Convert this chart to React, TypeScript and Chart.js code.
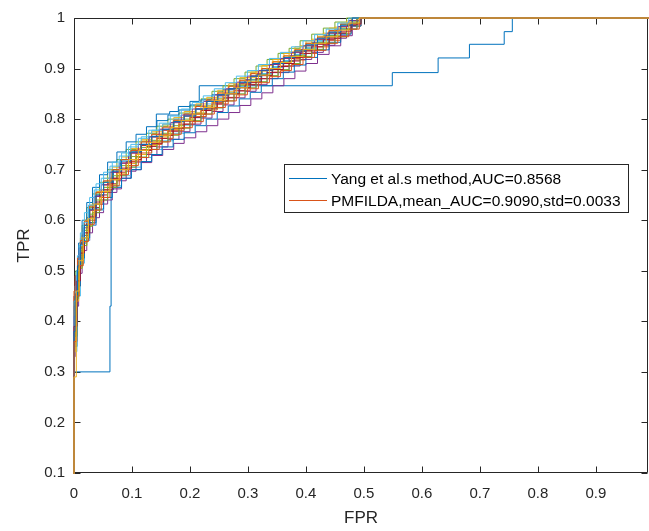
import React, { useEffect, useRef } from 'react';
import { Chart, registerables } from 'chart.js';

Chart.register(...registerables);

// ---- tick labels ----
const xTickValues = [0, 0.1, 0.2, 0.3, 0.4, 0.5, 0.6, 0.7, 0.8, 0.9];
const xTickLabels = ['0', '0.1', '0.2', '0.3', '0.4', '0.5', '0.6', '0.7', '0.8', '0.9'];
const yTickValues = [0.1, 0.2, 0.3, 0.4, 0.5, 0.6, 0.7, 0.8, 0.9, 1];
const yTickLabels = ['0.1', '0.2', '0.3', '0.4', '0.5', '0.6', '0.7', '0.8', '0.9', '1'];

const xAxisTitle = 'FPR';
const yAxisTitle = 'TPR';
const seriesLabels = ['Yang et al.s method,AUC=0.8568', 'PMFILDA,mean_AUC=0.9090,std=0.0033'];

// ---- Yang et al. ROC (staircase vertices) ----
const yangFpr = [0, 0, 0.062, 0.064, 0.068, 0.08, 0.095, 0.115, 0.13, 0.142, 0.165, 0.18, 0.2, 0.216, 0.549, 0.628, 0.682, 0.742, 0.756, 1];
const yangTpr = [0, 0.3, 0.43, 0.66, 0.7, 0.72, 0.735, 0.75, 0.765, 0.81, 0.815, 0.825, 0.835, 0.866, 0.892, 0.921, 0.948, 0.973, 1, 1];

// ---- PMFILDA ROC runs (FPR grids) ----
const fprA = [0, 0, 0.003, 0.008, 0.014, 0.022, 0.032, 0.044, 0.058, 0.074, 0.09, 0.107, 0.125, 0.143, 0.162, 0.181, 0.2, 0.219, 0.238, 0.257, 0.276, 0.295, 0.314, 0.333, 0.352, 0.371, 0.39, 0.41, 0.43, 0.45, 0.47, 0.488, 1];
const fprB = [0, 0, 0.005, 0.011, 0.018, 0.027, 0.038, 0.051, 0.066, 0.082, 0.099, 0.116, 0.134, 0.152, 0.171, 0.19, 0.209, 0.228, 0.247, 0.266, 0.285, 0.304, 0.323, 0.342, 0.361, 0.38, 0.4, 0.42, 0.44, 0.46, 0.478, 0.495, 1];
const fprC = [0, 0, 0.002, 0.006, 0.011, 0.018, 0.027, 0.038, 0.051, 0.066, 0.082, 0.098, 0.116, 0.134, 0.153, 0.172, 0.19, 0.21, 0.229, 0.248, 0.267, 0.286, 0.305, 0.324, 0.343, 0.362, 0.381, 0.4, 0.42, 0.44, 0.46, 0.48, 1];
const fprD = [0, 0, 0.004, 0.009, 0.016, 0.025, 0.035, 0.047, 0.062, 0.078, 0.094, 0.111, 0.129, 0.147, 0.166, 0.185, 0.204, 0.223, 0.242, 0.261, 0.28, 0.299, 0.318, 0.337, 0.356, 0.375, 0.395, 0.415, 0.435, 0.455, 0.474, 0.492, 1];

// ---- PMFILDA ROC runs (TPR values) ----
const run01 = [0, 0.40, 0.47, 0.525, 0.57, 0.605, 0.632, 0.66, 0.683, 0.70, 0.716, 0.74, 0.755, 0.77, 0.78, 0.797, 0.81, 0.82, 0.833, 0.85, 0.863, 0.872, 0.887, 0.898, 0.905, 0.92, 0.935, 0.95, 0.962, 0.97, 0.988, 1, 1];
const run02 = [0, 0.42, 0.50, 0.555, 0.6, 0.628, 0.655, 0.676, 0.70, 0.72, 0.74, 0.757, 0.77, 0.786, 0.797, 0.81, 0.826, 0.838, 0.85, 0.866, 0.876, 0.89, 0.9, 0.914, 0.925, 0.937, 0.95, 0.963, 0.975, 0.987, 1, 1, 1];
const run03 = [0, 0.33, 0.40, 0.47, 0.52, 0.56, 0.59, 0.615, 0.64, 0.662, 0.683, 0.70, 0.714, 0.728, 0.74, 0.752, 0.763, 0.775, 0.787, 0.80, 0.813, 0.827, 0.84, 0.852, 0.866, 0.88, 0.895, 0.91, 0.928, 0.945, 0.965, 1, 1];
const run04 = [0, 0.44, 0.50, 0.545, 0.59, 0.625, 0.652, 0.675, 0.70, 0.72, 0.74, 0.755, 0.772, 0.786, 0.80, 0.812, 0.826, 0.84, 0.855, 0.866, 0.88, 0.893, 0.905, 0.918, 0.93, 0.94, 0.955, 0.968, 0.98, 0.992, 1, 1, 1];
const run05 = [0, 0.34, 0.45, 0.515, 0.56, 0.59, 0.62, 0.645, 0.668, 0.688, 0.705, 0.724, 0.74, 0.757, 0.772, 0.788, 0.803, 0.82, 0.835, 0.85, 0.864, 0.878, 0.89, 0.904, 0.916, 0.928, 0.942, 0.955, 0.968, 0.98, 0.993, 1, 1];
const run06 = [0, 0.45, 0.48, 0.51, 0.555, 0.59, 0.62, 0.648, 0.67, 0.695, 0.713, 0.733, 0.748, 0.765, 0.778, 0.795, 0.806, 0.82, 0.835, 0.846, 0.86, 0.87, 0.885, 0.896, 0.91, 0.92, 0.934, 0.946, 0.958, 0.972, 0.985, 1, 1];
const run07 = [0, 0.38, 0.49, 0.555, 0.60, 0.635, 0.665, 0.69, 0.715, 0.735, 0.755, 0.77, 0.785, 0.797, 0.808, 0.818, 0.828, 0.838, 0.848, 0.858, 0.868, 0.878, 0.888, 0.9, 0.912, 0.925, 0.938, 0.952, 0.965, 0.978, 0.99, 1, 1];
const run08 = [0, 0.36, 0.47, 0.53, 0.57, 0.60, 0.632, 0.655, 0.68, 0.70, 0.717, 0.733, 0.75, 0.762, 0.778, 0.79, 0.805, 0.818, 0.83, 0.843, 0.856, 0.868, 0.88, 0.893, 0.905, 0.917, 0.93, 0.943, 0.956, 0.97, 0.984, 1, 1];
const run09 = [0, 0.40, 0.46, 0.52, 0.565, 0.60, 0.63, 0.657, 0.683, 0.705, 0.725, 0.742, 0.76, 0.775, 0.79, 0.803, 0.815, 0.83, 0.843, 0.857, 0.87, 0.882, 0.893, 0.906, 0.918, 0.93, 0.943, 0.955, 0.967, 0.98, 0.99, 1, 1];
const run10 = [0, 0.35, 0.43, 0.495, 0.54, 0.575, 0.605, 0.632, 0.655, 0.678, 0.697, 0.715, 0.73, 0.745, 0.76, 0.775, 0.79, 0.802, 0.815, 0.828, 0.842, 0.855, 0.868, 0.88, 0.892, 0.905, 0.918, 0.932, 0.946, 0.96, 0.978, 1, 1];
const run11 = [0, 0.37, 0.48, 0.54, 0.58, 0.612, 0.64, 0.665, 0.688, 0.708, 0.726, 0.744, 0.758, 0.772, 0.787, 0.8, 0.812, 0.826, 0.84, 0.852, 0.866, 0.878, 0.889, 0.902, 0.914, 0.926, 0.94, 0.952, 0.965, 0.978, 0.99, 1, 1];
const run12 = [0, 0.42, 0.47, 0.53, 0.575, 0.615, 0.645, 0.672, 0.695, 0.715, 0.733, 0.75, 0.765, 0.778, 0.79, 0.8, 0.81, 0.82, 0.83, 0.842, 0.853, 0.865, 0.877, 0.89, 0.902, 0.915, 0.928, 0.94, 0.955, 0.97, 0.985, 1, 1];
const run13 = [0, 0.43, 0.455, 0.51, 0.555, 0.595, 0.625, 0.65, 0.672, 0.695, 0.713, 0.73, 0.746, 0.762, 0.776, 0.79, 0.803, 0.817, 0.83, 0.842, 0.856, 0.868, 0.88, 0.892, 0.904, 0.915, 0.93, 0.943, 0.957, 0.97, 0.985, 1, 1];
const run14 = [0, 0.35, 0.47, 0.525, 0.565, 0.595, 0.622, 0.645, 0.665, 0.683, 0.70, 0.716, 0.73, 0.745, 0.76, 0.773, 0.787, 0.8, 0.813, 0.826, 0.84, 0.853, 0.866, 0.88, 0.893, 0.907, 0.922, 0.937, 0.952, 0.968, 0.984, 1, 1];
const run15 = [0, 0.46, 0.49, 0.525, 0.56, 0.598, 0.628, 0.655, 0.678, 0.7, 0.72, 0.738, 0.755, 0.77, 0.784, 0.798, 0.81, 0.825, 0.838, 0.852, 0.865, 0.877, 0.89, 0.9, 0.913, 0.925, 0.937, 0.95, 0.962, 0.975, 0.988, 1, 1];
const run16 = [0, 0.34, 0.44, 0.505, 0.55, 0.59, 0.62, 0.645, 0.67, 0.693, 0.712, 0.73, 0.748, 0.765, 0.78, 0.797, 0.812, 0.826, 0.84, 0.854, 0.868, 0.882, 0.895, 0.908, 0.92, 0.933, 0.945, 0.958, 0.97, 0.982, 0.994, 1, 1];
const run17 = [0, 0.41, 0.49, 0.545, 0.585, 0.62, 0.647, 0.67, 0.695, 0.713, 0.733, 0.75, 0.765, 0.78, 0.793, 0.808, 0.82, 0.835, 0.848, 0.86, 0.873, 0.885, 0.896, 0.908, 0.92, 0.932, 0.945, 0.958, 0.97, 0.983, 0.995, 1, 1];
const run18 = [0, 0.37, 0.445, 0.505, 0.55, 0.588, 0.615, 0.64, 0.665, 0.688, 0.705, 0.725, 0.74, 0.755, 0.768, 0.782, 0.797, 0.81, 0.822, 0.836, 0.85, 0.862, 0.874, 0.886, 0.898, 0.91, 0.924, 0.938, 0.95, 0.963, 0.978, 1, 1];
const run19 = [0, 0.44, 0.5, 0.55, 0.595, 0.63, 0.66, 0.683, 0.707, 0.727, 0.745, 0.762, 0.778, 0.792, 0.806, 0.82, 0.833, 0.846, 0.86, 0.872, 0.885, 0.896, 0.908, 0.92, 0.932, 0.943, 0.955, 0.967, 0.978, 0.99, 1, 1, 1];
const run20 = [0, 0.39, 0.48, 0.535, 0.575, 0.608, 0.636, 0.66, 0.683, 0.703, 0.72, 0.738, 0.752, 0.768, 0.782, 0.796, 0.81, 0.822, 0.836, 0.85, 0.862, 0.873, 0.886, 0.898, 0.91, 0.922, 0.935, 0.948, 0.96, 0.974, 0.988, 1, 1];
const run21 = [0, 0.38, 0.45, 0.51, 0.553, 0.59, 0.622, 0.65, 0.675, 0.697, 0.717, 0.735, 0.75, 0.766, 0.78, 0.795, 0.806, 0.82, 0.835, 0.848, 0.86, 0.873, 0.885, 0.897, 0.91, 0.922, 0.935, 0.947, 0.96, 0.972, 0.986, 1, 1];
const run22 = [0, 0.36, 0.45, 0.51, 0.558, 0.592, 0.62, 0.645, 0.668, 0.69, 0.708, 0.724, 0.74, 0.755, 0.77, 0.783, 0.795, 0.81, 0.823, 0.836, 0.848, 0.86, 0.872, 0.884, 0.896, 0.908, 0.922, 0.936, 0.95, 0.963, 0.978, 1, 1];
const run23 = [0, 0.29, 0.46, 0.52, 0.565, 0.603, 0.632, 0.657, 0.68, 0.7, 0.72, 0.738, 0.754, 0.768, 0.783, 0.797, 0.81, 0.823, 0.837, 0.85, 0.862, 0.875, 0.887, 0.9, 0.912, 0.924, 0.938, 0.95, 0.963, 0.976, 0.99, 1, 1];

const pmfildaRuns = [
  { fpr: fprA, tpr: run01 }, { fpr: fprB, tpr: run02 }, { fpr: fprC, tpr: run03 }, { fpr: fprA, tpr: run04 },
  { fpr: fprB, tpr: run05 }, { fpr: fprC, tpr: run06 }, { fpr: fprA, tpr: run07 }, { fpr: fprB, tpr: run08 },
  { fpr: fprC, tpr: run09 }, { fpr: fprA, tpr: run10 }, { fpr: fprB, tpr: run11 }, { fpr: fprC, tpr: run12 },
  { fpr: fprA, tpr: run13 }, { fpr: fprB, tpr: run14 }, { fpr: fprC, tpr: run15 }, { fpr: fprA, tpr: run16 },
  { fpr: fprD, tpr: run17 }, { fpr: fprA, tpr: run18 }, { fpr: fprD, tpr: run19 }, { fpr: fprB, tpr: run20 },
  { fpr: fprC, tpr: run21 }, { fpr: fprD, tpr: run22 }, { fpr: fprD, tpr: run23 },
];

const colorOrder = ['#0072BD', '#D95319', '#EDB120', '#7E2F8E', '#77AC30', '#4DBEEE', '#A2142F'];
const AXIS_COLOR = '#262626';
const FONT = '"Liberation Sans", Arial, Helvetica, sans-serif';

const toPoints = (fpr: number[], tpr: number[]) => {
  const n = Math.min(fpr.length, tpr.length);
  const pts: { x: number; y: number }[] = [];
  for (let i = 0; i < n; i++) pts.push({ x: fpr[i], y: tpr[i] });
  return pts;
};

const framePlugin = {
  id: 'matlabFrame',
  beforeDatasetsDraw(chart: any) {
    const { ctx, chartArea: a, scales } = chart;
    const L = Math.round(a.left) + 0.5;
    const R = Math.round(a.right) - 0.5;
    const T = Math.round(a.top) + 0.5;
    const B = Math.round(a.bottom) - 0.5;
    const tl = 6;
    ctx.save();
    ctx.strokeStyle = AXIS_COLOR;
    ctx.lineWidth = 1;
    ctx.beginPath();
    ctx.rect(L, T, R - L, B - T);
    ctx.stroke();
    ctx.beginPath();
    for (const v of xTickValues) {
      const px = Math.round(scales.x.getPixelForValue(v)) + 0.5;
      ctx.moveTo(px, B); ctx.lineTo(px, B - tl);
      ctx.moveTo(px, T); ctx.lineTo(px, T + tl);
    }
    for (const v of yTickValues) {
      const py = Math.round(scales.y.getPixelForValue(v)) + 0.5;
      ctx.moveTo(L, py); ctx.lineTo(L + tl, py);
      ctx.moveTo(R, py); ctx.lineTo(R - tl, py);
    }
    ctx.stroke();
    ctx.restore();
  },
};

const legendPlugin = {
  id: 'insideLegend',
  afterDatasetsDraw(chart: any) {
    const { ctx } = chart;
    const ds = chart.data.datasets;
    const bx = 284.5, by = 164.5, bw = 344, bh = 48;
    ctx.save();
    ctx.fillStyle = '#ffffff';
    ctx.fillRect(bx, by, bw, bh);
    ctx.strokeStyle = AXIS_COLOR;
    ctx.lineWidth = 1;
    ctx.strokeRect(bx, by, bw, bh);
    const rows = [178.5, 200.5];
    ctx.font = `15.5px ${FONT}`;
    ctx.textBaseline = 'alphabetic';
    ctx.textAlign = 'left';
    for (let i = 0; i < 2; i++) {
      const d = ds[i];
      ctx.strokeStyle = d.borderColor;
      ctx.beginPath();
      ctx.moveTo(289, rows[i]);
      ctx.lineTo(327, rows[i]);
      ctx.stroke();
      ctx.fillStyle = '#000000';
      ctx.fillText(d.label, 331, rows[i] + 5);
    }
    ctx.restore();
  },
};

export default function App() {
  const canvasRef = useRef<HTMLCanvasElement | null>(null);

  useEffect(() => {
    document.body.style.margin = '0';
    const canvas = canvasRef.current;
    if (!canvas) return;

    const total = pmfildaRuns.length + 1;
    const datasets: any[] = [];
    datasets.push({
      label: seriesLabels[0],
      data: toPoints(yangFpr, yangTpr),
      borderColor: colorOrder[0],
      borderWidth: 1,
      pointRadius: 0,
      stepped: 'before',
      fill: false,
      clip: 1,
      order: total,
    });
    pmfildaRuns.forEach((run, i) => {
      datasets.push({
        label: i === 0 ? seriesLabels[1] : '',
        data: toPoints(run.fpr, run.tpr),
        borderColor: colorOrder[(i + 1) % colorOrder.length],
        borderWidth: 1,
        pointRadius: 0,
        stepped: 'before',
        fill: false,
        clip: 1,
        order: total - (i + 1),
      });
    });

    const chart = new Chart(canvas, {
      type: 'line',
      data: { datasets },
      options: {
        animation: false,
        responsive: false,
        devicePixelRatio: 1,
        events: [],
        layout: { padding: { top: 17, right: 1, left: 0, bottom: 0 } },
        plugins: {
          legend: { display: false },
          tooltip: { enabled: false },
        },
        scales: {
          x: {
            type: 'linear',
            min: 0,
            max: 0.99,
            grid: { display: false, drawTicks: false },
            border: { display: false },
            afterBuildTicks: (s: any) => { s.ticks = xTickValues.map((v) => ({ value: v })); },
            afterFit: (s: any) => { s.height = 58; },
            ticks: {
              padding: 12,
              color: AXIS_COLOR,
              font: { family: FONT, size: 15 },
              maxRotation: 0,
              autoSkip: false,
              callback: (_v: any, i: number) => xTickLabels[i],
            },
            title: {
              display: true,
              text: xAxisTitle,
              color: AXIS_COLOR,
              font: { family: FONT, size: 17 },
              padding: { top: 0, bottom: 2 },
            },
          },
          y: {
            type: 'linear',
            min: 0.1,
            max: 1,
            grid: { display: false, drawTicks: false },
            border: { display: false },
            afterBuildTicks: (s: any) => { s.ticks = yTickValues.map((v) => ({ value: v })); },
            afterFit: (s: any) => { s.width = 74; },
            ticks: {
              padding: 9,
              color: AXIS_COLOR,
              font: { family: FONT, size: 15 },
              autoSkip: false,
              callback: (_v: any, i: number) => yTickLabels[i],
            },
            title: {
              display: true,
              text: yAxisTitle,
              color: AXIS_COLOR,
              font: { family: FONT, size: 17 },
              padding: { top: 14, bottom: 0 },
            },
          },
        },
      },
      plugins: [framePlugin, legendPlugin],
    });

    return () => chart.destroy();
  }, []);

  return (
    <div style={{ width: 649, height: 531, background: '#ffffff' }}>
      <canvas ref={canvasRef} width={649} height={531} />
    </div>
  );
}
